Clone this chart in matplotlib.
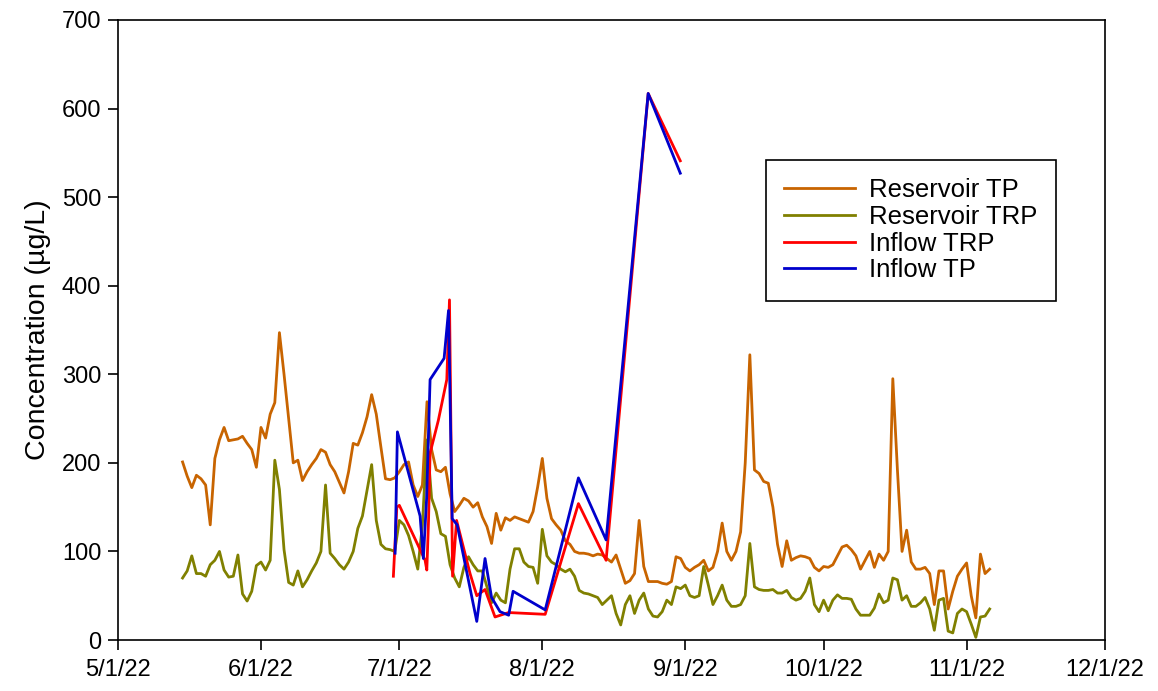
import matplotlib
matplotlib.use('Agg')
import matplotlib.pyplot as plt
import matplotlib.dates as mdates
import pandas as pd

plt.rcParams['font.family'] = ['Liberation Sans', 'DejaVu Sans']

### reservoir data, daily from 5/15/22
res_start = '2022-05-15'
res_tp = [201, 185, 172, 186, 182, 175, 130, 205, 226, 240, 225, 226, 227, 230, 222, 215, 195, 240, 228, 255,
          268, 347, 300, 250, 200, 203, 180, 190, 198, 205, 215, 212, 198, 190, 178, 166, 190, 222, 220, 234,
          252, 277, 255, 218, 182, 181, 183, 190, 198, 201, 175, 162, 175, 269, 215, 192, 190, 195, 165, 145,
          152, 160, 157, 150, 155, 139, 128, 109, 143, 124, 138, 135, 139, 137, 135, 133, 145, 173, 205, 160,
          137, 130, 124, 112, 108, 100, 98, 98, 97, 95, 97, 96, 92, 88, 96, 80, 64, 67, 75, 135,
          83, 66, 66, 66, 64, 63, 66, 94, 92, 82, 78, 82, 85, 90, 78, 82, 100, 132, 100, 90,
          100, 122, 200, 322, 192, 188, 179, 177, 150, 108, 83, 112, 90, 93, 95, 94, 92, 82, 78, 83,
          82, 85, 95, 105, 107, 102, 95, 80, 90, 100, 82, 97, 90, 100, 295, 192, 100, 124, 88, 80,
          80, 82, 75, 40, 78, 78, 35, 55, 72, 80, 87, 50, 25, 97, 75, 80]
res_trp = [70, 78, 95, 75, 75, 72, 85, 90, 100, 79, 71, 72, 96, 52, 44, 55, 84, 88, 79, 90,
           203, 170, 102, 65, 62, 78, 60, 68, 78, 87, 100, 175, 98, 92, 85, 80, 88, 100, 126, 140,
           169, 198, 135, 108, 103, 102, 100, 135, 130, 118, 100, 80, 130, 226, 160, 145, 120, 117, 85, 70,
           60, 82, 94, 85, 78, 78, 60, 42, 53, 45, 42, 80, 103, 103, 88, 83, 82, 64, 125, 95,
           88, 85, 80, 77, 80, 72, 56, 53, 52, 50, 48, 40, 45, 50, 30, 17, 40, 50, 30, 45,
           53, 35, 27, 26, 32, 45, 40, 60, 58, 62, 50, 48, 50, 83, 62, 40, 50, 62, 45, 38,
           38, 40, 50, 109, 60, 57, 56, 56, 57, 53, 53, 56, 48, 45, 47, 55, 70, 40, 32, 45,
           33, 45, 51, 47, 47, 46, 35, 28, 28, 28, 36, 52, 42, 45, 70, 68, 45, 50, 38, 38,
           42, 48, 35, 11, 45, 47, 10, 8, 30, 35, 32, 18, 3, 26, 27, 35]

### inflow data
inflow_trp_dates = ['2022-06-29 17:00', '2022-06-30 11:00', '2022-07-01 00:00', '2022-07-06 14:00',
                    '2022-07-06 23:00', '2022-07-07 08:00', '2022-07-07 16:00', '2022-07-09 11:00',
                    '2022-07-11 07:00', '2022-07-11 21:00', '2022-07-12 13:00', '2022-07-13 10:00',
                    '2022-07-16 08:00', '2022-07-17 19:00', '2022-07-19 14:00', '2022-07-21 18:00',
                    '2022-07-24 17:00', '2022-08-01 15:00', '2022-08-08 20:00', '2022-08-14 20:00',
                    '2022-08-23 23:00', '2022-08-30 22:00']
inflow_trp = [72, 150, 152, 90, 79, 135, 211, 248, 294, 384, 72, 135,
              75, 50, 57, 26, 31, 29, 154, 90, 617, 541]

inflow_tp_dates = ['2022-06-30 02:00', '2022-06-30 14:00', '2022-07-05 12:00', '2022-07-06 05:00',
                   '2022-07-06 22:00', '2022-07-07 16:00', '2022-07-10 17:00', '2022-07-11 16:00',
                   '2022-07-12 11:00', '2022-07-13 13:00', '2022-07-17 19:00', '2022-07-19 14:00',
                   '2022-07-21 00:00', '2022-07-22 20:00', '2022-07-24 17:00', '2022-07-25 16:00',
                   '2022-08-01 15:00', '2022-08-08 20:00', '2022-08-14 20:00', '2022-08-23 23:00',
                   '2022-08-30 22:00']
inflow_tp = [98, 235, 140, 92, 160, 294, 318, 372, 137, 130, 21, 92,
             48, 32, 28, 55, 34, 183, 113, 617, 527]

res_dates = pd.date_range(res_start, periods=len(res_tp), freq='D')

fig = plt.figure(figsize=(11.58, 6.91), dpi=100)
ax = fig.add_axes([0.1019, 0.0738, 0.8523, 0.8973])

lw = 2.0
ax.plot(res_dates, res_tp, color='#c86400', lw=lw, label='Reservoir TP')
ax.plot(res_dates, res_trp, color='#808000', lw=lw, label='Reservoir TRP')
ax.plot(pd.to_datetime(inflow_trp_dates), inflow_trp, color='#ff0000', lw=lw, label='Inflow TRP')
ax.plot(pd.to_datetime(inflow_tp_dates), inflow_tp, color='#0000cc', lw=lw, label='Inflow TP')

ax.set_xlim(pd.Timestamp('2022-05-01'), pd.Timestamp('2022-12-01'))
ax.set_ylim(0, 700)
ax.set_yticks(range(0, 701, 100))
ax.xaxis.set_major_locator(mdates.MonthLocator())
ax.xaxis.set_major_formatter(plt.FuncFormatter(
    lambda v, p: '{0}/{1}/{2}'.format(mdates.num2date(v).month, mdates.num2date(v).day,
                                     mdates.num2date(v).strftime('%y'))))
ax.tick_params(direction='out', length=7, width=1.2, labelsize=17)
ax.tick_params(axis='x', pad=7)
ax.tick_params(axis='y', pad=5)
for s in ax.spines.values():
    s.set_linewidth(1.2)
ax.set_ylabel('Concentration (µg/L)', fontsize=20.5, labelpad=8)

leg = ax.legend(loc='upper left', bbox_to_anchor=(0.6565, 0.7742), borderaxespad=0, fontsize=18.5,
                frameon=True, fancybox=False, edgecolor='black', framealpha=1,
                handlelength=2.75, handletextpad=0.55, labelspacing=0.1, borderpad=0.72)
leg.get_frame().set_linewidth(1.2)

fig.savefig('out.png', dpi=100)
